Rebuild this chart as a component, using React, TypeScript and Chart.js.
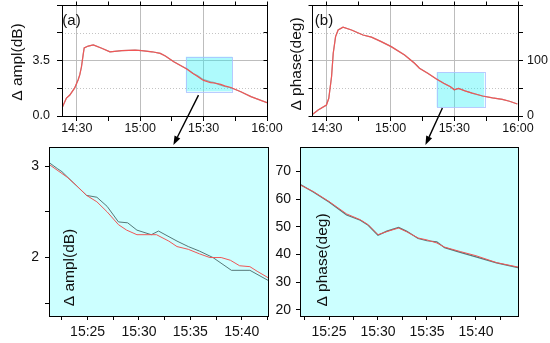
import React, { useEffect, useRef } from 'react';
import { Chart, registerables } from 'chart.js';
Chart.register(...registerables);

const FONT = '"Liberation Sans", Arial, Helvetica, sans-serif';
const RED = '#f05656';
const GRAY = '#557878';
const GRAY_SOFT = 'rgba(85,120,120,0.55)';
const GRID = '#bdbdbd';

// ---- time is minutes after 14:00 ----
// (a) top: amplitude change (dB)
const ampTimeTop = [23, 25.1, 26.7, 29, 30.6, 31.4, 32.2, 33, 33.5, 35.4, 37.8, 41.8, 45.7, 51.3, 57.6, 60.8, 65.6, 69.5, 71.9, 75.9, 82.2, 85, 87, 89.4, 90, 93.3, 95, 98.1, 100, 102.9, 107.6, 112.4, 120];
const ampRedTop = [0.5, 1.13, 1.32, 1.77, 2.27, 2.59, 3.09, 3.85, 4.29, 4.41, 4.48, 4.27, 4.05, 4.12, 4.16, 4.12, 4.05, 3.95, 3.78, 3.42, 2.95, 2.68, 2.5, 2.29, 2.25, 2.1, 2.08, 1.99, 1.9, 1.8, 1.53, 1.22, 0.84];
const ampGrayTop = [0.5, 1.13, 1.32, 1.77, 2.27, 2.59, 3.09, 3.85, 4.29, 4.41, 4.48, 4.27, 4.05, 4.12, 4.16, 4.12, 4.05, 3.95, 3.78, 3.42, 2.97, 2.68, 2.56, 2.33, 2.3, 2.15, 2.1, 1.95, 1.86, 1.78, 1.53, 1.22, 0.84];

// (b) top: phase change (deg)
const phTimeTop = [23, 25.9, 29.8, 30.9, 32.2, 33, 34.1, 35.3, 37.6, 41.6, 47, 51, 55.6, 60.3, 66.6, 71.3, 73.6, 77.5, 81.4, 85, 88.2, 90, 92, 95, 98.4, 100, 103.3, 108, 112.6, 116, 119.7];
const phRedTop = [2, 10.8, 19.8, 31.9, 70.8, 113, 143, 155, 160, 155, 146, 142, 134, 125, 110, 95, 86, 77, 67, 59, 52.6, 47.2, 49.6, 45.3, 41.1, 39.6, 36, 32.5, 30, 26.5, 21.6];
const phGrayTop = [2, 10.8, 19.8, 31.9, 70.8, 113, 143, 155, 160, 155, 146, 142, 134, 125, 110, 95, 86, 77, 67, 59, 52.6, 47.2, 49.6, 45.6, 41.1, 39.3, 36, 32.5, 30, 26.5, 21.6];

// (c) zoom: amplitude
const ampRedTime = [81.24, 83, 83.9, 84.9, 85.9, 86.9, 88, 88.8, 89.8, 91.7, 92.9, 93.7, 94.8, 95.9, 96.9, 98, 98.9, 99.8, 100.8, 101.5, 102.56];
const ampRedZoom = [3.02, 2.88, 2.79, 2.68, 2.61, 2.5, 2.36, 2.3, 2.25, 2.25, 2.18, 2.12, 2.09, 2.04, 2.0, 2.0, 1.97, 1.91, 1.9, 1.85, 1.78];
const ampGrayTime = [81.24, 82.1, 82.5, 83.6, 84.9, 85.9, 86.9, 88, 88.9, 89.8, 91.2, 91.9, 93.7, 94.8, 95.9, 97.2, 99, 100.8, 102.56];
const ampGrayZoom = [3.04, 2.97, 2.94, 2.82, 2.68, 2.66, 2.56, 2.39, 2.38, 2.3, 2.25, 2.29, 2.18, 2.12, 2.07, 2.0, 1.86, 1.86, 1.75];

// (d) zoom: phase
const phZoomTime = [82.04, 83.4, 85, 86.8, 88.2, 89, 90, 90.9, 92.1, 92.9, 94.1, 95, 96, 96.8, 98.4, 100, 102.1, 104.29];
const phRedZoom = [65.2, 62.8, 59.2, 54.7, 52.6, 50.8, 47.2, 48.3, 49.6, 48.3, 46.0, 45.3, 44.2, 42.7, 41.1, 39.6, 37.1, 35.5];
const phGrayZoom = [65.4, 62.6, 59.0, 54.3, 52.4, 50.6, 47.0, 48.5, 49.8, 48.5, 45.8, 45.0, 44.6, 42.5, 40.8, 39.2, 37.0, 35.3];

// ticks
const topXTicks = [30, 45, 60, 75, 90, 105, 120];
const topXLabels = [30, 60, 90, 120];
const ampTopTicks = [0, 1.75, 3.5, 5.25, 7];
const ampTopLabels: Record<string, string> = { '0': '0.0', '3.5': '3.5' };
const phTopTicks = [0, 50, 100, 150, 200];
const phTopLabels: Record<string, string> = { '0': '0', '100': '100' };
const zoomXTicks = [82.5, 85, 87.5, 90, 92.5, 95, 97.5, 100, 102.5];
const zoomXLabels = [85, 90, 95, 100];
const ampZoomTicks = [1.5, 2, 2.5, 3];
const ampZoomLabels: Record<string, string> = { '2': '2', '3': '3' };
const phZoomTicks = [20, 30, 40, 50, 60, 70];

function fmtTime(t: number) {
  const h = 14 + Math.floor(t / 60);
  const m = Math.round(t - Math.floor(t / 60) * 60);
  return `${h}:${String(m).padStart(2, '0')}`;
}

function line(t: number[], v: number[], color: string, w: number) {
  return {
    data: t.map((x, i) => ({ x, y: v[i] })),
    borderColor: color,
    borderWidth: w,
    pointRadius: 0,
    fill: false,
    tension: 0,
  };
}

function makeDecor(d: any) {
  return {
    id: 'decor',
    beforeDraw(chart: any) {
      if (!d.bg) return;
      const { ctx, chartArea: a } = chart;
      ctx.save();
      ctx.fillStyle = d.bg;
      ctx.fillRect(a.left, a.top, a.right - a.left, a.bottom - a.top);
      ctx.restore();
    },
    beforeDatasetsDraw(chart: any) {
      const { ctx, chartArea: a, scales } = chart;
      const xs = scales.x, ys = scales.y;
      ctx.save();
      if (d.dotted) {
        ctx.strokeStyle = '#c4c4c4';
        ctx.lineWidth = 1;
        ctx.setLineDash([1, 2]);
        d.dotted.forEach((v: number) => {
          const y = Math.round(ys.getPixelForValue(v)) + 0.5;
          ctx.beginPath();
          ctx.moveTo(a.left, y);
          ctx.lineTo(a.right, y);
          ctx.stroke();
        });
        ctx.setLineDash([]);
      }
      if (d.rect) {
        const x0 = xs.getPixelForValue(d.rect.x0), x1 = xs.getPixelForValue(d.rect.x1);
        const y0 = ys.getPixelForValue(d.rect.y0), y1 = ys.getPixelForValue(d.rect.y1);
        ctx.fillStyle = 'rgba(30,240,246,0.36)';
        ctx.fillRect(x0, y1, x1 - x0, y0 - y1);
        ctx.strokeStyle = 'rgba(170,190,255,0.8)';
        ctx.lineWidth = 1;
        ctx.strokeRect(Math.round(x0) + 0.5, Math.round(y1) + 0.5, Math.round(x1 - x0), Math.round(y0 - y1));
      }
      ctx.restore();
    },
    afterDraw(chart: any) {
      const { ctx, chartArea: a, scales } = chart;
      const xs = scales.x, ys = scales.y;
      ctx.save();
      ctx.strokeStyle = '#000';
      ctx.lineWidth = 1;
      const L = Math.round(a.left - 0.5) + 0.5, R = Math.round(a.right - 0.5) + 0.5;
      const T = Math.round(a.top - 0.5) + 0.5, B = Math.round(a.bottom - 0.5) + 0.5;
      ctx.strokeRect(L, T, R - L, B - T);
      if (d.mirror) {
        ctx.beginPath();
        xs.ticks.forEach((t: any) => {
          const x = Math.round(xs.getPixelForValue(t.value) - 0.5) + 0.5;
          ctx.moveTo(x, T);
          ctx.lineTo(x, T - 4);
        });
        ys.ticks.forEach((t: any) => {
          const y = Math.round(ys.getPixelForValue(t.value) - 0.5) + 0.5;
          if (d.mirror === 'right') { ctx.moveTo(R, y); ctx.lineTo(R - 4, y); }
          else { ctx.moveTo(L, y); ctx.lineTo(L - 4, y); }
        });
        ctx.stroke();
      }
      ctx.fillStyle = '#111';
      (d.texts || []).forEach((t: any) => {
        ctx.save();
        ctx.translate(t.x, t.y);
        if (t.rot) ctx.rotate(-Math.PI / 2);
        ctx.font = `${t.size}px ${FONT}`;
        ctx.textAlign = 'center';
        ctx.textBaseline = 'middle';
        ctx.fillText(t.text, 0, 0);
        ctx.restore();
      });
      if (d.arrow) {
        const p0x = xs.getPixelForValue(d.arrow.x0), p0y = ys.getPixelForValue(d.arrow.y0);
        const p1x = xs.getPixelForValue(d.arrow.x1), p1y = ys.getPixelForValue(d.arrow.y1);
        const ang = Math.atan2(p1y - p0y, p1x - p0x);
        const hl = 9, hw = 3.2;
        const bx = p1x - hl * Math.cos(ang), by = p1y - hl * Math.sin(ang);
        ctx.strokeStyle = '#000';
        ctx.lineWidth = 1.4;
        ctx.beginPath();
        ctx.moveTo(p0x, p0y);
        ctx.lineTo(bx, by);
        ctx.stroke();
        ctx.fillStyle = '#000';
        ctx.beginPath();
        ctx.moveTo(p1x, p1y);
        ctx.lineTo(bx + hw * Math.sin(ang), by - hw * Math.cos(ang));
        ctx.lineTo(bx - hw * Math.sin(ang), by + hw * Math.cos(ang));
        ctx.closePath();
        ctx.fill();
      }
      ctx.restore();
    },
  };
}

function makeChart(canvas: HTMLCanvasElement, s: any) {
  return new Chart(canvas, {
    type: 'line',
    data: { datasets: s.datasets },
    plugins: [makeDecor(s.decor)],
    options: {
      animation: false,
      responsive: false,
      devicePixelRatio: 1,
      events: [],
      layout: { padding: s.padding },
      plugins: { legend: { display: false }, tooltip: { enabled: false } },
      scales: {
        x: {
          type: 'linear',
          position: 'bottom',
          bounds: 'data',
          min: s.xMin,
          max: s.xMax,
          afterBuildTicks: (sc: any) => { sc.ticks = s.xTicks.map((v: number) => ({ value: v })); },
          afterFit: (sc: any) => { sc.height = s.xHeight; sc.paddingLeft = 0; sc.paddingRight = 0; sc.paddingTop = 0; sc.paddingBottom = 0; },
          ticks: {
            autoSkip: false, maxRotation: 0, minRotation: 0, padding: s.xPad,
            font: { family: FONT, size: s.fontSize }, color: '#111',
            callback: (v: any) => (s.xLabels.includes(v) ? fmtTime(v) : ''),
          },
          grid: {
            drawOnChartArea: s.onArea,
            color: (c: any) => (c.tick && s.xGrid.includes(c.tick.value) ? GRID : 'rgba(0,0,0,0)'),
            tickColor: '#000', tickLength: s.tickLen, lineWidth: 1,
          },
          border: { display: true, color: '#000', width: 1 },
        },
        y: {
          type: 'linear',
          position: s.yPos,
          bounds: 'data',
          min: s.yMin,
          max: s.yMax,
          afterBuildTicks: (sc: any) => { sc.ticks = s.yTicks.map((v: number) => ({ value: v })); },
          afterFit: (sc: any) => { sc.width = s.yWidth; sc.paddingLeft = 0; sc.paddingRight = 0; sc.paddingTop = 0; sc.paddingBottom = 0; },
          ticks: {
            autoSkip: false, padding: s.yPad,
            font: { family: FONT, size: s.fontSize }, color: '#111',
            callback: (v: any) => s.yLabel(v),
          },
          grid: {
            drawOnChartArea: s.onArea,
            color: (c: any) => (c.tick && s.yGrid.includes(c.tick.value) ? GRID : 'rgba(0,0,0,0)'),
            tickColor: '#000', tickLength: s.tickLen, lineWidth: 1,
          },
          border: { display: true, color: '#000', width: 1 },
        },
      },
    } as any,
  });
}

function specs() {
  const a = {
    datasets: [line(ampTimeTop, ampRedTop, RED, 1.2), line(ampTimeTop, ampGrayTop, GRAY_SOFT, 1.2)],
    padding: { left: 0, right: 283, top: 5, bottom: 203 },
    xMin: 23, xMax: 120, xTicks: topXTicks, xLabels: topXLabels, xGrid: [30, 60, 90],
    yMin: 0, yMax: 7, yTicks: ampTopTicks, yGrid: [3.5], yPos: 'left',
    yLabel: (v: number) => ampTopLabels[String(v)] || '',
    yWidth: 62, xHeight: 24, xPad: 0, yPad: 7, tickLen: 5, fontSize: 12.5, onArea: true,
    decor: {
      dotted: [1.75, 5.25], mirror: 'right',
      rect: { x0: 81.6, x1: 103.6, y0: 1.55, y1: 3.74 },
      arrow: { x0: 87.6, y0: 1.32, x1: 75.7, y1: -1.83 },
      texts: [
        { text: 'Δ ampl(dB)', x: 17.5, y: 62, rot: true, size: 15.5 },
        { text: '(a)', x: 71.5, y: 21, size: 15 },
      ],
    },
  };
  const b = {
    datasets: [line(phTimeTop, phRedTop, RED, 1.2), line(phTimeTop, phGrayTop, GRAY_SOFT, 1.2)],
    padding: { left: 312, right: 0, top: 5, bottom: 203 },
    xMin: 23, xMax: 120, xTicks: topXTicks, xLabels: topXLabels, xGrid: [30, 60, 90],
    yMin: 0, yMax: 200, yTicks: phTopTicks, yGrid: [100], yPos: 'right',
    yLabel: (v: number) => phTopLabels[String(v)] || '',
    yWidth: 32, xHeight: 24, xPad: 0, yPad: 4, tickLen: 5, fontSize: 12.5, onArea: true,
    decor: {
      dotted: [50, 150], mirror: 'left',
      rect: { x0: 81.7, x1: 104.1, y0: 15.7, y1: 78.7 },
      arrow: { x0: 84.4, y0: 14.4, x1: 76.4, y1: -52.3 },
      texts: [
        { text: 'Δ phase(deg)', x: 296.5, y: 64, rot: true, size: 15.5 },
        { text: '(b)', x: 324, y: 21, size: 15 },
      ],
    },
  };
  const c = {
    datasets: [line(ampRedTime, ampRedZoom, RED, 1), line(ampGrayTime, ampGrayZoom, GRAY, 1)],
    padding: { left: 0, right: 282, top: 147, bottom: 0 },
    xMin: 81.24, xMax: 102.56, xTicks: zoomXTicks, xLabels: zoomXLabels, xGrid: [],
    yMin: 1.36, yMax: 3.21, yTicks: ampZoomTicks, yGrid: [], yPos: 'left',
    yLabel: (v: number) => ampZoomLabels[String(v)] || '',
    yWidth: 49, xHeight: 27, xPad: 4, yPad: 6, tickLen: 4, fontSize: 14, onArea: false,
    decor: {
      bg: '#ccffff',
      texts: [{ text: 'Δ ampl(dB)', x: 69.5, y: 267.5, rot: true, size: 15.5 }],
    },
  };
  const d = {
    datasets: [line(phZoomTime, phRedZoom, RED, 1), line(phZoomTime, phGrayZoom, GRAY, 1.2)],
    padding: { left: 270, right: 32, top: 147, bottom: 0 },
    xMin: 82.04, xMax: 104.29, xTicks: zoomXTicks, xLabels: zoomXLabels, xGrid: [],
    yMin: 17.8, yMax: 78.9, yTicks: phZoomTicks, yGrid: [], yPos: 'left',
    yLabel: (v: number) => String(v),
    yWidth: 30, xHeight: 27, xPad: 4, yPad: 5, tickLen: 4, fontSize: 14, onArea: false,
    decor: {
      bg: '#ccffff',
      texts: [{ text: 'Δ phase(deg)', x: 322.5, y: 260, rot: true, size: 15.5 }],
    },
  };
  return [a, b, c, d];
}

export default function App() {
  const r0 = useRef<HTMLCanvasElement>(null);
  const r1 = useRef<HTMLCanvasElement>(null);
  const r2 = useRef<HTMLCanvasElement>(null);
  const r3 = useRef<HTMLCanvasElement>(null);
  const refs = [r0, r1, r2, r3];
  useEffect(() => {
    const charts = specs().map((s, i) => makeChart(refs[i].current as HTMLCanvasElement, s));
    return () => charts.forEach((ch) => ch.destroy());
  }, []);
  return (
    <div style={{ position: 'fixed', left: 0, top: 0, width: 550, height: 343, background: '#fff', overflow: 'hidden' }}>
      {refs.map((r, i) => (
        <canvas key={i} ref={r} width={550} height={343} style={{ position: 'absolute', left: 0, top: 0 }} />
      ))}
    </div>
  );
}
